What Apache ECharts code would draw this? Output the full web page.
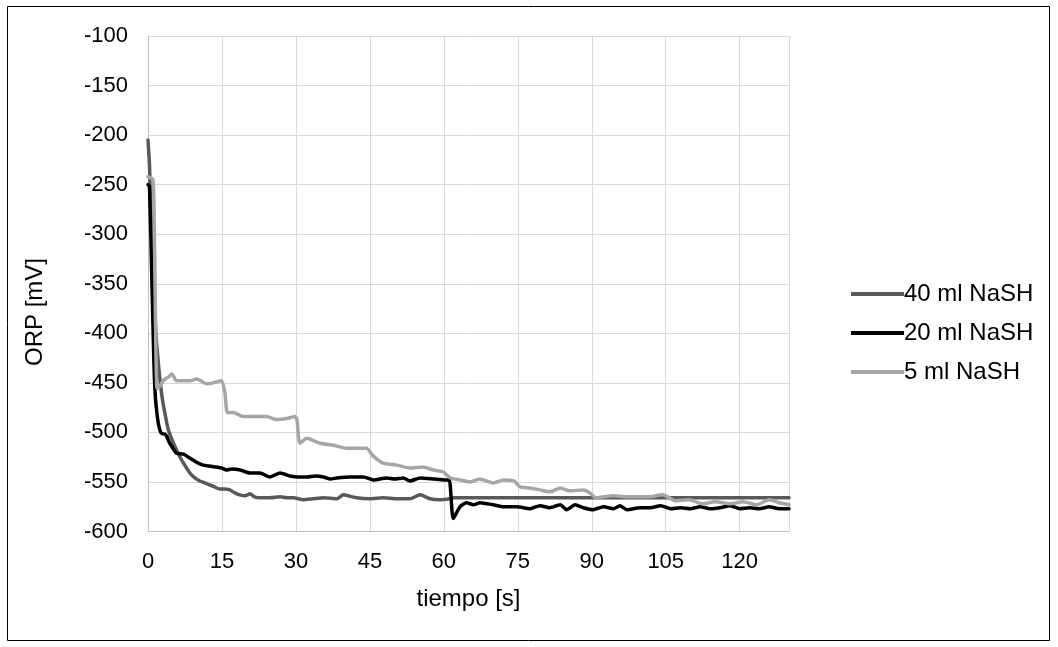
<!DOCTYPE html>
<html>
<head>
<meta charset="utf-8">
<script src="https://cdn.jsdelivr.net/npm/echarts@6/dist/echarts.min.js"></script>
<style>
html,body{margin:0;padding:0;background:#fff;}
#chart{width:1058px;height:647px;}
</style>
</head>
<body>
<div id="chart"></div>
<script>
// ---- data ----
var seriesNames = ['40 ml NaSH', '20 ml NaSH', '5 ml NaSH'];

var t40 = [0, 0.3, 0.7, 1.1, 1.6, 2.1, 2.6, 3.1, 3.6, 4.1, 5.1, 6.4, 7.2, 8.5, 9.5, 10.5, 11.5, 12.5, 13.5, 14.5, 15.5, 16.6, 17.6, 18.6, 19.6, 20.7, 21.6, 22.7, 24.7, 26.8, 28.2, 29.5, 31.5, 33.5, 35.6, 38.3, 39.6, 42.3, 45, 47.7, 50.5, 53.1, 55.2, 57.2, 59.2, 61.2, 62, 130];
var v40 = [-205, -230, -290, -350, -400, -430, -455, -472, -485, -497, -510, -524, -531, -541, -546, -549, -551, -553, -555, -557, -557, -558, -561, -563, -564, -562, -565, -566, -566, -565, -566, -566, -568, -567, -566, -567, -563, -566, -567, -566, -567, -567, -563, -567, -568, -567, -566, -566];

var t20 = [0, 0.3, 0.8, 1.2, 1.5, 1.8, 2.1, 2.5, 2.8, 3.5, 3.8, 4.3, 4.8, 5.8, 7.2, 8.2, 9.2, 10.2, 11.2, 12.5, 13.9, 15, 15.9, 17, 18.7, 20.7, 22.7, 24.7, 26.8, 28.8, 30.5, 32.2, 34, 35.6, 37, 38.3, 41, 43.7, 45.7, 48.4, 50, 51.8, 53.1, 55.2, 57.9, 60.2, 61.1, 61.9, 63.3, 64.6, 66, 67.3, 70, 72.1, 74.8, 77.5, 79.5, 81.5, 83.6, 84.9, 86.6, 88.3, 90.3, 92.4, 94.4, 95.7, 97.1, 99.8, 101.8, 104, 106, 108, 110, 112, 114, 116, 118, 120, 122, 124, 126, 128, 130];
var v20 = [-250, -252, -350, -430, -465, -480, -491, -499, -501, -502, -504, -510, -514, -521, -522, -525, -528, -531, -533, -534, -535, -536, -538, -537, -538, -541, -541, -545, -541, -544, -545, -545, -544, -545, -547, -546, -545, -545, -548, -546, -547, -546, -549, -546, -547, -548, -548, -587, -575, -571, -573, -571, -573, -575, -575, -577, -574, -576, -573, -578, -573, -576, -578, -575, -577, -574, -578, -576, -576, -574, -577, -576, -577, -575, -577, -576, -574, -577, -576, -577, -575, -577, -577];

var t5 = [0, 1, 1.3, 1.5, 1.8, 2.1, 2.8, 3.5, 4.2, 4.8, 5.8, 7, 8.5, 9.9, 11.9, 13.2, 14.9, 15.6, 16.1, 17.3, 19.3, 22, 24, 26.1, 28.1, 29.8, 30.2, 30.8, 32.2, 34.9, 37.6, 40.3, 42.4, 44.3, 45.7, 47.7, 50.4, 53.1, 55.8, 57.9, 59.9, 61.3, 63.3, 65.3, 67.3, 70, 72.1, 74.2, 75.5, 77.5, 79.5, 81.5, 83.6, 85.5, 88.3, 89.6, 90.8, 92.4, 94.4, 97.1, 99.8, 101.8, 104.3, 105, 107, 109.7, 112.5, 115, 118, 120.7, 123.4, 126, 128, 130];
var v5 = [-242, -245, -300, -380, -455, -455, -450, -446, -444, -441, -448, -448, -448, -446, -451, -450, -448, -460, -480, -480, -484, -484, -484, -487, -486, -484, -487, -511, -506, -511, -513, -516, -516, -516, -524, -531, -533, -536, -535, -538, -540, -546, -548, -550, -547, -551, -548, -549, -555, -556, -558, -560, -556, -559, -558, -561, -566, -565, -564, -565, -565, -565, -563, -564, -569, -568, -572, -570, -572, -570, -573, -568, -571, -573];

var xMin = 0, xMax = 130, xStep = 15;
var yMin = -600, yMax = -100, yStep = 50;
var xTitle = 'tiempo [s]';
var yTitle = 'ORP [mV]';

function pairs(t, v) { return t.map(function (x, i) { return [x, v[i]]; }); }

var FONT = '"Liberation Sans", Arial, sans-serif';
var colors = ['#595959', '#000000', '#a6a6a6'];

var chart = echarts.init(document.getElementById('chart'), null, { renderer: 'canvas' });
var option = {
  animation: false,
  backgroundColor: '#ffffff',
  textStyle: { fontFamily: FONT },
  graphic: [{
    type: 'rect',
    shape: { x: 7.5, y: 6.5, width: 1042, height: 634 },
    style: { fill: 'none', stroke: '#000000', lineWidth: 1 },
    silent: true
  }, {
    type: 'text',
    x: 35, y: 312,
    rotation: Math.PI / 2,
    silent: true,
    style: { text: yTitle, font: '24px ' + FONT, fill: '#000', align: 'center', verticalAlign: 'middle' }
  }],
  grid: { left: 148, top: 36, width: 641, height: 495.5, containLabel: false },
  legend: {
    orient: 'vertical',
    left: 846,
    top: 276,
    itemWidth: 53,
    itemHeight: 4,
    itemGap: 13,
    icon: 'rect',
    textStyle: { fontFamily: FONT, fontSize: 24, color: '#000', lineHeight: 26, padding: [0, 0, 0, -5] },
    data: seriesNames
  },
  xAxis: {
    type: 'value',
    min: xMin, max: xMax, interval: xStep,
    name: xTitle,
    nameLocation: 'middle',
    nameGap: 56,
    nameTextStyle: { fontFamily: FONT, fontSize: 24, color: '#000' },
    axisLine: { show: true, lineStyle: { color: '#bfbfbf', width: 1 } },
    axisTick: { show: false },
    axisLabel: {
      fontFamily: FONT, fontSize: 22, color: '#000', margin: 19,
      formatter: function (v) { return v > 120 ? '' : String(v); }
    },
    splitLine: { show: true, lineStyle: { color: '#d9d9d9', width: 1 } }
  },
  yAxis: {
    type: 'value',
    min: yMin, max: yMax, interval: yStep,
    axisLine: { show: true, lineStyle: { color: '#bfbfbf', width: 1 } },
    axisTick: { show: false },
    axisLabel: { fontFamily: FONT, fontSize: 22, color: '#000', margin: 20 },
    splitLine: { show: true, lineStyle: { color: '#d9d9d9', width: 1 } }
  },
  series: [
    { name: seriesNames[0], type: 'line', data: pairs(t40, v40), showSymbol: false, symbol: 'none', smooth: 0.2, z: 2,
      lineStyle: { color: colors[0], width: 3.5, cap: 'round', join: 'round' }, itemStyle: { color: colors[0] } },
    { name: seriesNames[1], type: 'line', data: pairs(t20, v20), showSymbol: false, symbol: 'none', smooth: 0.2, z: 3,
      lineStyle: { color: colors[1], width: 3.5, cap: 'round', join: 'round' }, itemStyle: { color: colors[1] } },
    { name: seriesNames[2], type: 'line', data: pairs(t5, v5), showSymbol: false, symbol: 'none', smooth: 0.2, z: 4,
      lineStyle: { color: colors[2], width: 3.5, cap: 'round', join: 'round' }, itemStyle: { color: colors[2] } }
  ]
};
chart.setOption(option);
</script>
</body>
</html>
